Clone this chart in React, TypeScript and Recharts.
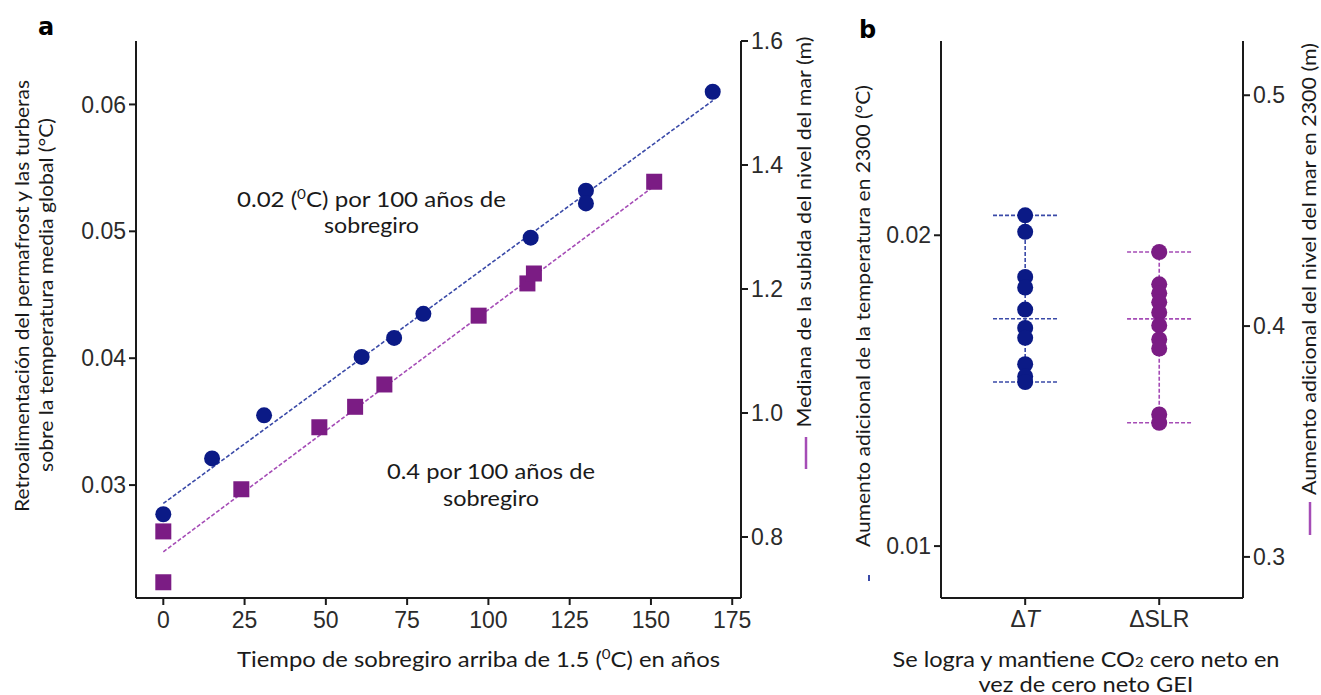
import React from "react";
import { ComposedChart, Scatter, XAxis, YAxis, ReferenceLine } from "recharts";

// Panel a: years of overshoot above 1.5 °C
const overshootYearsT = [0, 15, 31, 61, 71, 80, 113, 130, 130, 169];
const feedbackT = [0.0277, 0.0321, 0.0355, 0.0401, 0.0416, 0.0435, 0.0495, 0.0532, 0.0522, 0.061];
const overshootYearsSLR = [0, 0, 24, 48, 59, 68, 97, 112, 114, 151];
const medianSLR = [0.809, 0.727, 0.877, 0.977, 1.01, 1.046, 1.157, 1.209, 1.225, 1.373];
// fitted trend lines (start/end)
const trendTYears = [0, 169];
const trendTValues = [0.02855, 0.0603];
const trendSLRYears = [0, 151];
const trendSLRValues = [0.776, 1.366];

const yearTicks = [0, 25, 50, 75, 100, 125, 150, 175];
const tempTicksA = [0.03, 0.04, 0.05, 0.06];
const slrTicksA = [0.8, 1.0, 1.2, 1.4, 1.6];

// Panel b: additional rise in 2300
const categoriesB = ["ΔT", "ΔSLR"];
const deltaT = [0.02064, 0.02011, 0.01866, 0.01832, 0.01761, 0.01702, 0.0167, 0.01585, 0.01546, 0.01528];
const deltaSLR = [0.4321, 0.4181, 0.4142, 0.4103, 0.4059, 0.4003, 0.3942, 0.3903, 0.3617, 0.3581];
const tempTicksB = [0.01, 0.02];
const slrTicksB = [0.3, 0.4, 0.5];

const NAVY = "#0b1a86";
const PURPLE = "#7b1c84";
const NAVY_LINE = "#3a4aa8";
const PURPLE_LINE = "#a54cb6";
const AXIS = "#1a1a1a";
const SERIF_LIKE = "Lato, 'Open Sans', sans-serif";

const toPoints = (xs: number[], ys: number[]) => xs.map((x, i) => ({ x, y: ys[i] }));

const stats = (vals: number[]) => {
  const s = [...vals].sort((a, b) => a - b);
  const m = s.length / 2;
  const median = s.length % 2 ? s[Math.floor(m)] : (s[m - 1] + s[m]) / 2;
  return { min: s[0], max: s[s.length - 1], median };
};

const tickStyle = { fontFamily: "'Liberation Sans', Arial, sans-serif", fontSize: 23, fill: "#2b2b2b" };
const axisStroke = { stroke: AXIS, strokeWidth: 2 };

const Dot = (color: string) => (p: any) => <circle cx={p.cx} cy={p.cy} r={8} fill={color} />;
const Square = (color: string) => (p: any) => (
  <rect x={p.cx - 8} y={p.cy - 8} width={16} height={16} fill={color} />
);

const CategoryTick = (props: any) => {
  const { x, y, payload } = props;
  const label = categoriesB[payload.value] ?? "";
  return (
    <text x={x} y={y} dy="0.71em" textAnchor="middle" {...tickStyle}>
      <tspan>Δ</tspan>
      <tspan fontStyle={label === "ΔT" ? "italic" : "normal"}>{label.slice(1)}</tspan>
    </text>
  );
};

const PanelA = () => (
  <ComposedChart width={860} height={695} margin={{ top: 41, right: 0, bottom: 0, left: 0 }}>
    <XAxis
      xAxisId="yr"
      type="number"
      dataKey="x"
      domain={[-8.4, 177.7]}
      ticks={yearTicks}
      interval={0}
      allowDataOverflow
      height={97}
      axisLine={axisStroke}
      tickLine={axisStroke}
      tickSize={7}
      tickMargin={7}
      tick={tickStyle}
    />
    <YAxis
      yAxisId="temp"
      type="number"
      dataKey="y"
      domain={[0.0211, 0.065]}
      ticks={tempTicksA}
      interval={0}
      allowDataOverflow
      width={136}
      axisLine={axisStroke}
      tickLine={axisStroke}
      tickSize={7}
      tickMargin={3}
      tick={tickStyle}
      tickFormatter={(v: number) => v.toFixed(2)}
    />
    <YAxis
      yAxisId="slr"
      orientation="right"
      type="number"
      dataKey="y"
      domain={[0.7016, 1.6]}
      ticks={slrTicksA}
      interval={0}
      allowDataOverflow
      width={119}
      axisLine={axisStroke}
      tickLine={axisStroke}
      tickSize={7}
      tickMargin={3}
      tick={tickStyle}
      tickFormatter={(v: number) => v.toFixed(1)}
    />
    <ReferenceLine
      xAxisId="yr"
      yAxisId="temp"
      segment={toPoints(trendTYears, trendTValues)}
      stroke={NAVY_LINE}
      strokeWidth={1.6}
      strokeDasharray="4 2"
      ifOverflow="visible"
    />
    <ReferenceLine
      xAxisId="yr"
      yAxisId="slr"
      segment={toPoints(trendSLRYears, trendSLRValues)}
      stroke={PURPLE_LINE}
      strokeWidth={1.6}
      strokeDasharray="4 2"
      ifOverflow="visible"
    />
    <Scatter
      xAxisId="yr"
      yAxisId="slr"
      dataKey="y"
      data={toPoints(overshootYearsSLR, medianSLR)}
      shape={Square(PURPLE)}
      isAnimationActive={false}
    />
    <Scatter
      xAxisId="yr"
      yAxisId="temp"
      dataKey="y"
      data={toPoints(overshootYearsT, feedbackT)}
      shape={Dot(NAVY)}
      isAnimationActive={false}
    />
  </ComposedChart>
);

const PanelB = () => {
  const sT = stats(deltaT);
  const sS = stats(deltaSLR);
  const half = 0.24;
  const hLine = (cx: number, v: number) => [
    { x: cx - half, y: v },
    { x: cx + half, y: v },
  ];
  return (
    <ComposedChart width={481} height={695} margin={{ top: 41, right: 0, bottom: 0, left: 0 }}>
      <XAxis
        xAxisId="cat"
        type="number"
        dataKey="x"
        domain={[-0.628, 1.625]}
        ticks={[0, 1]}
        interval={0}
        allowDataOverflow
        height={97}
        axisLine={axisStroke}
        tickLine={axisStroke}
        tickSize={7}
        tickMargin={6}
        tick={<CategoryTick />}
      />
      <YAxis
        yAxisId="temp"
        type="number"
        dataKey="y"
        domain={[0.00833, 0.02625]}
        ticks={tempTicksB}
        interval={0}
        allowDataOverflow
        width={101}
        axisLine={axisStroke}
        tickLine={axisStroke}
        tickSize={7}
        tickMargin={3}
        tick={tickStyle}
        tickFormatter={(v: number) => v.toFixed(2)}
      />
      <YAxis
        yAxisId="slr"
        orientation="right"
        type="number"
        dataKey="y"
        domain={[0.2822, 0.5235]}
        ticks={slrTicksB}
        interval={0}
        allowDataOverflow
        width={78}
        axisLine={axisStroke}
        tickLine={axisStroke}
        tickSize={7}
        tickMargin={3}
        tick={tickStyle}
        tickFormatter={(v: number) => v.toFixed(1)}
      />
      {[sT.max, sT.median, sT.min].map((v, i) => (
        <ReferenceLine key={`t${i}`} xAxisId="cat" yAxisId="temp" segment={hLine(0, v)}
          stroke={NAVY_LINE} strokeWidth={1.6} strokeDasharray="4 2" />
      ))}
      <ReferenceLine xAxisId="cat" yAxisId="temp" segment={[{ x: 0, y: sT.min }, { x: 0, y: sT.max }]}
        stroke={NAVY_LINE} strokeWidth={1.6} strokeDasharray="4 2" />
      {[sS.max, sS.median, sS.min].map((v, i) => (
        <ReferenceLine key={`s${i}`} xAxisId="cat" yAxisId="slr" segment={hLine(1, v)}
          stroke={PURPLE_LINE} strokeWidth={1.6} strokeDasharray="4 2" />
      ))}
      <ReferenceLine xAxisId="cat" yAxisId="slr" segment={[{ x: 1, y: sS.min }, { x: 1, y: sS.max }]}
        stroke={PURPLE_LINE} strokeWidth={1.6} strokeDasharray="4 2" />
      <Scatter
        xAxisId="cat"
        yAxisId="temp"
        dataKey="y"
        data={deltaT.map((y) => ({ x: 0, y }))}
        shape={Dot(NAVY)}
        isAnimationActive={false}
      />
      <Scatter
        xAxisId="cat"
        yAxisId="slr"
        dataKey="y"
        data={deltaSLR.map((y) => ({ x: 1, y }))}
        shape={Dot(PURPLE)}
        isAnimationActive={false}
      />
    </ComposedChart>
  );
};

const Sup0 = () => (
  <>
    <tspan fontSize={13} dy={-8}>0</tspan>
    <tspan dy={8}>C)</tspan>
  </>
);

const Labels = () => {
  const t = { fontFamily: SERIF_LIKE, fill: "#1a1a1a", lengthAdjust: "spacingAndGlyphs" as const };
  const rot = (x: number, y: number) => `rotate(-90 ${x} ${y})`;
  return (
    <svg width={1321} height={695} style={{ position: "absolute", left: 0, top: 0, pointerEvents: "none" }}>
      <text x={38} y={35} fontFamily="'DejaVu Sans', sans-serif" fontWeight={900} fontSize={24}>a</text>
      <text x={859} y={38} fontFamily="'DejaVu Sans', sans-serif" fontWeight={900} fontSize={24}>b</text>

      {/* panel a axis titles */}
      <text {...t} fontSize={19} textLength={432} x={28.5} y={296} textAnchor="middle" transform={rot(28.5, 296)}>
        Retroalimentación del permafrost y las turberas
      </text>
      <text {...t} fontSize={19} textLength={354} x={53} y={295} textAnchor="middle" transform={rot(53, 295)}>
        sobre la temperatura media global (°C)
      </text>
      <text {...t} fontSize={19} textLength={391} x={811} y={232} textAnchor="middle" transform={rot(811, 232)}>
        Mediana de la subida del nivel del mar (m)
      </text>
      <line x1={806} y1={437} x2={806} y2={469} stroke={PURPLE_LINE} strokeWidth={2.5} />
      <text {...t} fontSize={20.5} textLength={483} x={478.5} y={667} textAnchor="middle">
        Tiempo de sobregiro arriba de 1.5 (<Sup0 /> en años
      </text>

      {/* annotations */}
      <text {...t} fontSize={20.5} textLength={269} x={371.5} y={207} textAnchor="middle">
        0.02 (<Sup0 /> por 100 años de
      </text>
      <text {...t} fontSize={20.5} textLength={95} x={371.5} y={233} textAnchor="middle">sobregiro</text>
      <text {...t} fontSize={20.5} textLength={208} x={491} y={479} textAnchor="middle">0.4 por 100 años de</text>
      <text {...t} fontSize={20.5} textLength={96} x={491} y={505.5} textAnchor="middle">sobregiro</text>

      {/* panel b axis titles */}
      <text {...t} fontSize={19.5} textLength={462} x={870} y={316} textAnchor="middle" transform={rot(870, 316)}>
        Aumento adicional de la temperatura en 2300 (°C)
      </text>
      <line x1={869} y1={575} x2={869} y2={581} stroke={NAVY_LINE} strokeWidth={2} />
      <text {...t} fontSize={19.5} textLength={452} x={1316} y={269} textAnchor="middle" transform={rot(1316, 269)}>
        Aumento adicional del nivel del mar en 2300 (m)
      </text>
      <line x1={1310} y1={502} x2={1310} y2={535} stroke={PURPLE_LINE} strokeWidth={2.5} />
      <text {...t} fontSize={20.5} textLength={387} x={1086} y={667} textAnchor="middle">
        Se logra y mantiene CO<tspan fontSize={13}>2</tspan> cero neto en
      </text>
      <text {...t} fontSize={20.5} textLength={215} x={1086} y={692} textAnchor="middle">vez de cero neto GEI</text>
    </svg>
  );
};

export default function App() {
  return (
    <div style={{ position: "absolute", left: 0, top: 0, width: 1321, height: 695, background: "#fff" }}>
      <div style={{ position: "absolute", left: 0, top: 0 }}>
        <PanelA />
      </div>
      <div style={{ position: "absolute", left: 840, top: 0 }}>
        <PanelB />
      </div>
      <Labels />
    </div>
  );
}
